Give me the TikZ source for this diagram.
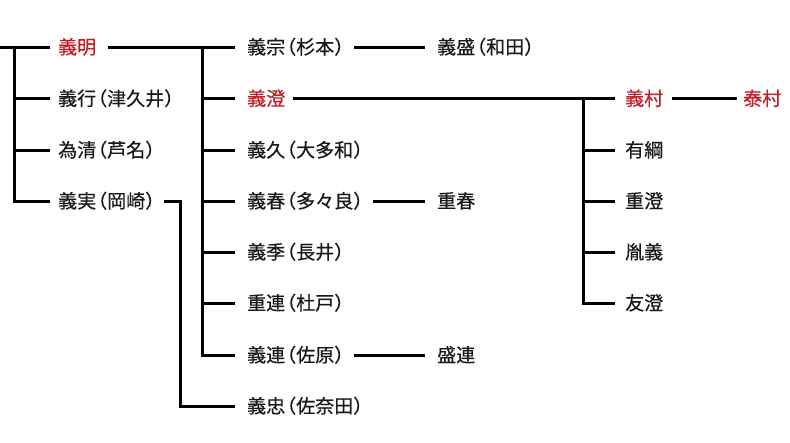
\documentclass[tikz,border=0pt]{standalone}
\usepackage{fontspec}
\newfontfamily\jpfont[FakeBold=0.5]{Noto Sans CJK JP}
\newcommand\lpar{\makebox[0.58em][r]{（}}
\newcommand\rpar{\makebox[0.45em][l]{）}}
\definecolor{namered}{RGB}{195,30,40}
\definecolor{ink}{RGB}{25,25,25}
\begin{document}
\begin{tikzpicture}[x=1pt,y=-1pt,
  person/.style={anchor=west,inner sep=0pt,text height=16pt,text depth=2pt,text=ink,
    font=\jpfont\fontsize{19}{19}\selectfont},
  lord/.style={text=namered},
  link/.style={line width=3pt,draw=black,line join=miter}]
\useasboundingbox (0,0) rectangle (790,442);
% column 1
\node[person,lord] (yoshiaki) at (58,47) {義明};
\node[person] (yoshiyuki) at (58,98.5) {義行\lpar 津久井\rpar};
\node[person] (tamekiyo) at (58,150) {為清\lpar 芦名\rpar};
\node[person] (yoshizane) at (58,201) {義実\lpar 岡崎\rpar};
% column 2
\node[person] (yoshimune) at (247,47) {義宗\lpar 杉本\rpar};
\node[person,lord] (yoshizumi) at (247,98.5) {義澄};
\node[person] (yoshihisa) at (247,150) {義久\lpar 大多和\rpar};
\node[person] (yoshiharu) at (247,201) {義春\lpar 多々良\rpar};
\node[person] (yoshisue) at (247,252) {義季\lpar 長井\rpar};
\node[person] (shigetsura) at (247,303) {重連\lpar 杜戸\rpar};
\node[person] (yoshitsura) at (247,355) {義連\lpar 佐原\rpar};
\node[person] (yoshitada) at (247,406) {義忠\lpar 佐奈田\rpar};
% column 3
\node[person] (yoshimori) at (437,47) {義盛\lpar 和田\rpar};
\node[person] (shigeharu) at (437,201) {重春};
\node[person] (moritsura) at (437,355) {盛連};
% column 4
\node[person,lord] (yoshimura) at (625,98.5) {義村};
\node[person] (aritsuna) at (625,150) {有綱};
\node[person] (shigezumi) at (625,201) {重澄};
\node[person] (taneyoshi) at (625,252) {胤義};
\node[person] (tomozumi) at (625,303) {友澄};
\node[person,lord] (yasumura) at (743,98.5) {泰村};
% connectors: first tree
\coordinate (root) at (0,47);
\coordinate (j1) at (14,47);
\draw[link] (root) -- ([xshift=-8pt]yoshiaki.west);
\draw[link] (j1) |- ([xshift=-8pt]yoshizane.west);
\foreach \n in {yoshiyuki,tamekiyo}
  \draw[link] (j1 |- \n.west) -- ([xshift=-8pt]\n.west);
% second tree
\coordinate (j2) at (202,47);
\draw[link] ([xshift=12pt]yoshiaki.east) -- ([xshift=-12pt]yoshimune.west);
\draw[link] (j2) |- ([xshift=-12pt]yoshitsura.west);
\foreach \n in {yoshizumi,yoshihisa,yoshiharu,yoshisue,shigetsura}
  \draw[link] (j2 |- \n.west) -- ([xshift=-12pt]\n.west);
\draw[link] ([xshift=10pt]yoshizane.east) -- ++(17,0) |- ([xshift=-12pt]yoshitada.west);
% third column links
\draw[link] ([xshift=11pt]yoshimune.east) -- ([xshift=-12pt]yoshimori.west);
\draw[link] ([xshift=11pt]yoshiharu.east) -- ([xshift=-12pt]shigeharu.west);
\draw[link] ([xshift=11pt]yoshitsura.east) -- ([xshift=-12pt]moritsura.west);
% right tree
\coordinate (j3) at (583,98.5);
\draw[link] ([xshift=8pt]yoshizumi.east) -- ([xshift=-10pt]yoshimura.west);
\draw[link] (j3) |- ([xshift=-10pt]tomozumi.west);
\foreach \n in {aritsuna,shigezumi,taneyoshi}
  \draw[link] (j3 |- \n.west) -- ([xshift=-10pt]\n.west);
\draw[link] ([xshift=9pt]yoshimura.east) -- ([xshift=-6pt]yasumura.west);
\end{tikzpicture}
\end{document}
